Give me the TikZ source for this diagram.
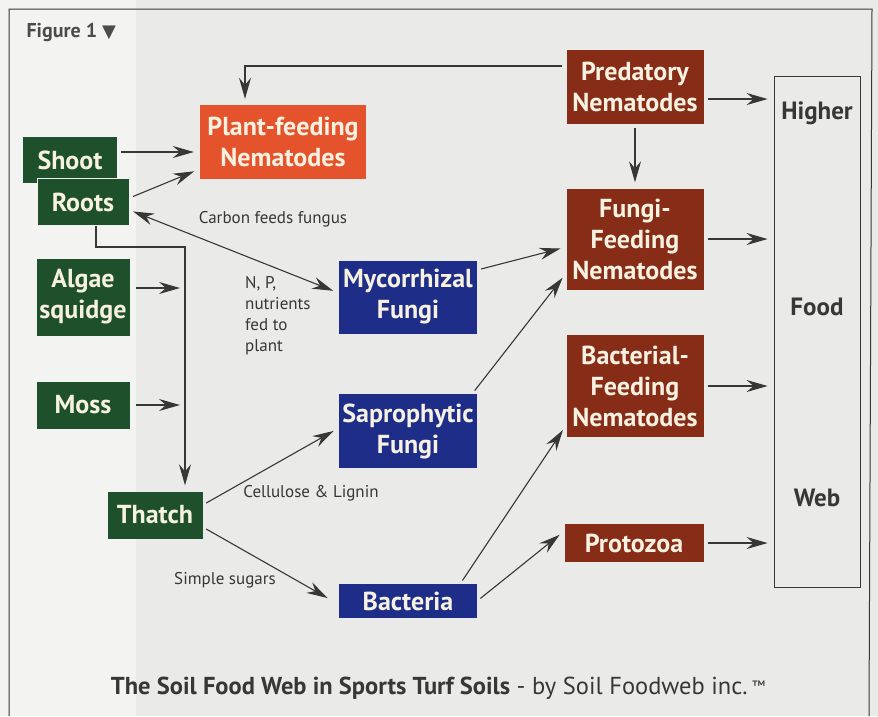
\documentclass[tikz,border=0pt]{standalone}
\usepackage{fontspec}
\setmainfont{PT Sans}
\newfontfamily\symfont{DejaVu Sans}
\usetikzlibrary{arrows.meta,positioning,calc}

\definecolor{grassgreen}{RGB}{30,80,44}
\definecolor{pestorange}{RGB}{229,83,45}
\definecolor{fungusblue}{RGB}{30,46,136}
\definecolor{nemabrown}{RGB}{134,44,23}
\definecolor{boxtext}{RGB}{246,241,224}
\definecolor{inkgray}{RGB}{55,55,55}
\definecolor{paper}{RGB}{234,234,232}
\definecolor{paperlight}{RGB}{243,243,241}

\tikzset{
  soilbox/.style={text=boxtext, font=\fontsize{26}{31}\selectfont\bfseries, align=center, inner sep=0pt},
  webword/.style={text=inkgray, font=\fontsize{25}{28}\selectfont\bfseries},
  flowtext/.style={text=inkgray, font=\fontsize{17}{21}\selectfont},
  arr/.style={draw=inkgray, line width=1.1pt, -{Stealth[length=21pt,width=12pt,inset=7pt]}, shorten <=4pt, shorten >=6pt},
  twoway/.style={arr, {Stealth[length=21pt,width=12pt,inset=7pt]}-{Stealth[length=21pt,width=12pt,inset=7pt]}}
}

\begin{document}
\begin{tikzpicture}[x=1pt,y=-1pt]
  \fill[paper] (0,0) rectangle (878,716);
  \fill[paperlight] (0,0) rectangle (136,716);
  \useasboundingbox (0,0) rectangle (878,716);
  \draw[inkgray, line width=1pt] (9,716) -- (9,9) -- (872,9) -- (869,716);

  \node[flowtext, anchor=west, font=\fontsize{20}{24}\selectfont\bfseries, text=inkgray!90] (fig) at (23,32) {Figure 1 {\symfont\fontsize{18}{18}\selectfont ▼}};

  % producers
  \node[soilbox, fill=grassgreen, minimum width=94pt, minimum height=46pt] (shoot) at (70,160) {Shoot};
  \node[soilbox, fill=grassgreen, draw=paperlight, line width=0.8pt, minimum width=92pt, minimum height=47pt] (roots) at (83,202) {Roots};
  \node[soilbox, fill=grassgreen, minimum width=93pt, minimum height=77pt] (algae) at (83,297) {Algae\\squidge};
  \node[soilbox, fill=grassgreen, minimum width=93pt, minimum height=47pt] (moss) at (83,405) {Moss};
  \node[soilbox, fill=grassgreen, minimum width=95pt, minimum height=47pt] (thatch) at (155,515) {Thatch};

  % first feeders
  \node[soilbox, fill=pestorange, minimum width=166pt, minimum height=74pt] (plant) at (283,142) {Plant-feeding\\Nematodes};
  \node[soilbox, fill=fungusblue, minimum width=138pt, minimum height=73pt] (mycor) at (408,297) {Mycorrhizal\\Fungi};
  \node[soilbox, fill=fungusblue, minimum width=138pt, minimum height=74pt] (sapro) at (408,431) {Saprophytic\\Fungi};
  \node[soilbox, fill=fungusblue, minimum width=138pt, minimum height=34pt] (bact) at (408,601) {Bacteria};

  % nematodes and protozoa
  \node[soilbox, fill=nemabrown, minimum width=137pt, minimum height=74pt] (pred) at (635,87) {Predatory\\Nematodes};
  \node[soilbox, fill=nemabrown, minimum width=137pt, minimum height=101pt] (fungfeed) at (635,239) {Fungi-\\Feeding\\Nematodes};
  \node[soilbox, fill=nemabrown, minimum width=137pt, minimum height=102pt] (bactfeed) at (635,386) {Bacterial-\\Feeding\\Nematodes};
  \node[soilbox, fill=nemabrown, minimum width=139pt, minimum height=38pt] (proto) at (634,543) {Protozoa};

  \node[draw=inkgray, line width=0.8pt, minimum width=86pt, minimum height=511pt] (higher) at (817,332) {};
  \node[webword] (wordhigher) at (817,113) {Higher};
  \node[webword] (wordfood) at (817,307) {Food};
  \node[webword] (wordweb) at (817,498) {Web};

  \coordinate (junc) at (185,247);

  \draw[arr] ([yshift=8pt]shoot.east) -- ([yshift=-10pt]plant.west);
  \draw[arr] ([yshift=4pt]roots.east) -- ([yshift=-27pt]plant.west);
  \draw[arr] ([yshift=21pt]pred.west) -| ([xshift=-38pt]plant.north);
  \draw[twoway] ([yshift=-8pt]roots.east) -- ([yshift=4pt]mycor.west);
  \draw[arr, shorten <=0pt] ([xshift=13pt]roots.south) |- (junc) -- ([xshift=30pt]thatch.north);
  \draw[arr, shorten <=6pt, shorten >=5pt] ($(algae.east)+(0,-9)$) -- ($(algae.east -| junc)+(0,-9)$);
  \draw[arr, shorten <=6pt, shorten >=5pt] (moss.east) -- (moss.east -| junc);
  \draw[arr] ([yshift=10pt]thatch.east) -- ([yshift=3pt]sapro.west);
  \draw[arr] ([yshift=-12pt]thatch.east) -- ([xshift=-6pt]bact.west);

  \draw[arr] ([yshift=27pt]mycor.east) -- ([yshift=-8pt]fungfeed.west);
  \draw[arr] ([xshift=-5pt]sapro.north east) -- ([yshift=-34pt]fungfeed.west);
  \draw[arr] ([xshift=-17pt]bact.north east) -- ([yshift=-39pt]bactfeed.west);
  \draw[arr] (bact.east) -- ([yshift=12pt]proto.west);

  \draw[arr] (pred.south) -- (fungfeed.north);
  \draw[arr] ($(pred.east)+(0,12)$) -- ($(pred.east -| higher.west)+(0,12)$);
  \draw[arr] (fungfeed.east) -- (fungfeed.east -| higher.west);
  \draw[arr] (bactfeed.east) -- (bactfeed.east -| higher.west);
  \draw[arr] (proto.east) -- (proto.east -| higher.west);

  \node[flowtext] (carbon) at (273,219) {Carbon feeds fungus};
  \node[flowtext, anchor=north west, align=left, inner sep=0pt] (nutrients) at (245,276) {N, P,\\nutrients\\fed to\\plant};
  \node[flowtext] (cellulose) at (311,493) {Cellulose \& Lignin};
  \node[flowtext] (sugars) at (225,580) {Simple sugars};

  \node[text=inkgray, font=\fontsize{24.5}{28}\selectfont] (title) at (438,688) {\textbf{The Soil Food Web in Sports Turf Soils} - by Soil Foodweb inc.\,\raisebox{3pt}{\fontsize{15}{15}\selectfont ™}};
\end{tikzpicture}
\end{document}
